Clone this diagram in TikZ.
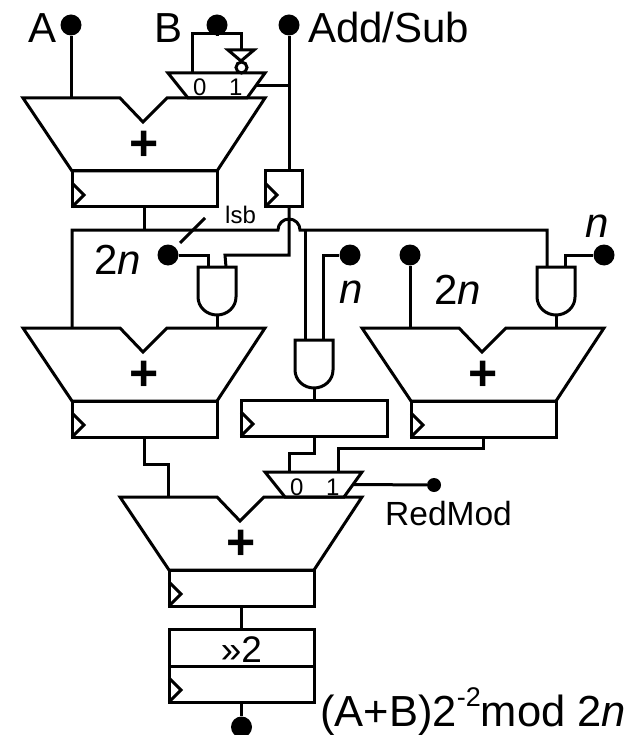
\documentclass[tikz,border=0pt]{standalone}
\usepackage{fontspec}
\setmainfont{Liberation Sans}
\usetikzlibrary{calc}
\newcommand{\fs}[1]{\fontsize{#1}{#1}\selectfont}
\tikzset{
  wire/.style={line width=3pt,line join=miter},
  dotpin/.style={circle,fill=black,inner sep=0pt,minimum size=21pt},
  smalldot/.style={circle,fill=black,inner sep=0pt,minimum size=14pt},
  biglabel/.style={anchor=base west,inner sep=0pt,font=\fs{42}},
  midlabel/.style={anchor=base west,inner sep=0pt,font=\fs{33.5}},
  tinylabel/.style={anchor=base west,inner sep=0pt,font=\fs{24}},
  pluslabel/.style={inner sep=0pt,font=\fs{50}\bfseries}
}
\newcommand{\regbox}[4]{% name, x1, x2, top
  \draw[wire] (#2,#4) rectangle (#3,#4+36);
  \draw[wire] (#2,#4+12) -- (#2+12,#4+24) -- (#2,#4+36);
  \coordinate (#1-in) at ({(#2+#3)/2},#4);
  \coordinate (#1-out) at ({(#2+#3)/2},#4+36);
}
\newcommand{\adderblock}[3]{% name, dx, dy
  \begin{scope}[shift={(#2,#3)}]
    \draw[wire] (23,98) -- (120,98) -- (143,122) -- (167,98) -- (265,98) -- (217,171) -- (72,171) -- cycle;
    \regbox{#1r}{72}{217}{171}
    \node[pluslabel] (#1-plus) at (144.5,146) {+};
    \coordinate (#1-tl) at (23,98);
  \end{scope}
}
\newcommand{\muxblock}[3]{% name, dx, dy
  \begin{scope}[shift={(#2,#3)}]
    \draw[wire] (168,73) -- (265,73) -- (247,98) -- (188,98) -- cycle;
    \node[tinylabel] (#1-zero) at (193,96) {0};
    \node[tinylabel] (#1-one) at (229,96) {1};
    \coordinate (#1-a) at (192,73);
    \coordinate (#1-b) at (241,73);
    \coordinate (#1-s) at (256,85.5);
  \end{scope}
}
\newcommand{\andblock}[3]{% name, left x, top y
  \draw[wire] (#2,#3+30) -- (#2,#3) -- (#2+38,#3) -- (#2+38,#3+30)
     arc[start angle=0,end angle=-180,x radius=19pt,y radius=18pt];
  \coordinate (#1-a) at (#2+10,#3);
  \coordinate (#1-b) at (#2+28,#3);
  \coordinate (#1-o) at (#2+19,#3+48);
}
\begin{document}
\begin{tikzpicture}[x=1pt,y=-1pt]
\useasboundingbox (0,0) rectangle (639,735);
% pins
\node[dotpin] (dA) at (71,25) {};
\node[dotpin] (dB) at (217,25) {};
\node[dotpin] (dS) at (289,25) {};
\node[dotpin] (d2n) at (168,255) {};
\node[dotpin] (dn1) at (350,255) {};
\node[dotpin] (d2m) at (410,255) {};
\node[dotpin] (dn2) at (604,255) {};
\node[smalldot] (dR) at (434,485) {};
\node[dotpin] (dO) at (241.5,727) {};
% blocks
\muxblock{m1}{0}{0}
\muxblock{m2}{97}{399}
\adderblock{a1}{0}{0}
\adderblock{a2}{0}{230}
\adderblock{a3}{339}{230}
\adderblock{a4}{97}{399}
\regbox{sr}{265}{302}{171}
\regbox{mr}{241}{387}{400}
\draw[wire] (169,629) rectangle (314,666);
\node[inner sep=0pt,anchor=base,font=\fs{37}] (shift) at (241.5,662) {»2};
\regbox{or}{169}{314}{666}
\andblock{g1}{198}{267}
\andblock{g2}{295}{340}
\andblock{g3}{537}{267}
% inverter
\draw[wire] (228,50) -- (254,50) -- (241,61) -- cycle;
\node[circle,draw,line width=3pt,inner sep=0pt,minimum size=11pt] (invc) at (241.5,67.5) {};
\coordinate (inv) at (241,50);
% helper coordinates
\coordinate (busB) at (217,34);
\coordinate (busL) at (72,230);
\coordinate (hopL) at (278,230);
\coordinate (hopR) at (300,230);
\coordinate (busR) at (547,230);
\coordinate (tapA) at (144.5,230);
\coordinate (a2in) at (72,328);
\coordinate (a4in) at (168,497);
\coordinate (srp) at (289,171);
\coordinate (srq) at (289,207);
\coordinate (srr) at (225,255);
\coordinate (sl1) at (180,243);
\coordinate (sl2) at (205,218);
% connectors
\draw[wire] (dA) -- (dA |- a1-tl);
\draw[wire] (dB) -- (busB);
\draw[wire] (m1-a) |- (inv |- busB) -- (inv);
\draw[wire] (dS) -- (srp);
\draw[wire] (m1-s) -- (m1-s -| dS);
\draw[wire] (srq) |- (srr) -- (g1-b);
\draw[wire] (d2n) -| (g1-a);
\draw[wire] (a1r-out) -- (tapA);
\draw[wire] (a2in) -- (busL) -- (hopL) arc[start angle=180,end angle=0,radius=11pt] -- (busR) -- (g3-a);
\draw[wire] (g2-a |- busL) -- (g2-a);
\draw[wire] (dn1) -| (g2-b);
\draw[wire] (dn2) -| (g3-b);
\draw[wire] (d2m) -- (d2m |- a3-tl);
\draw[wire] (g1-o) -- (g1-o |- a2-tl);
\draw[wire] (g3-o) -- (g3-o |- a3-tl);
\draw[wire] (g2-o) -- (g2-o |- mr-in);
\draw[wire] (a2r-out) -- ++(0,27) -| (a4in);
\draw[wire] (mr-out) -- ++(0,17) -| (m2-a);
\draw[wire] (a3r-out) -- ++(0,11) -| (m2-b);
\draw[wire] (m2-s) -- (dR);
\draw[wire] (a4r-out) -- (a4r-out |- 0,629);
\draw[wire] (or-out) -- (dO);
\draw[wire] (sl1) -- (sl2);
% labels
\node[biglabel] (tA) at (28,43) {A};
\node[biglabel] (tB) at (154,43) {B};
\node[biglabel] (tS) at (308,43) {Add/Sub};
\node[biglabel] (t2n) at (94,274) {2\textit{n}};
\node[biglabel] (tn1) at (339,303) {\textit{n}};
\node[biglabel] (t2m) at (434,304) {2\textit{n}};
\node[biglabel] (tn2) at (585,237) {\textit{n}};
\node[tinylabel] (tl) at (225,223) {lsb};
\node[midlabel] (tR) at (385,525) {RedMod};
\node[biglabel,font=\fs{43.5}] (tF) at (320,726) {(A+B)2\raisebox{20pt}{\fs{27}-2}mod 2\textit{n}};
\end{tikzpicture}
\end{document}
